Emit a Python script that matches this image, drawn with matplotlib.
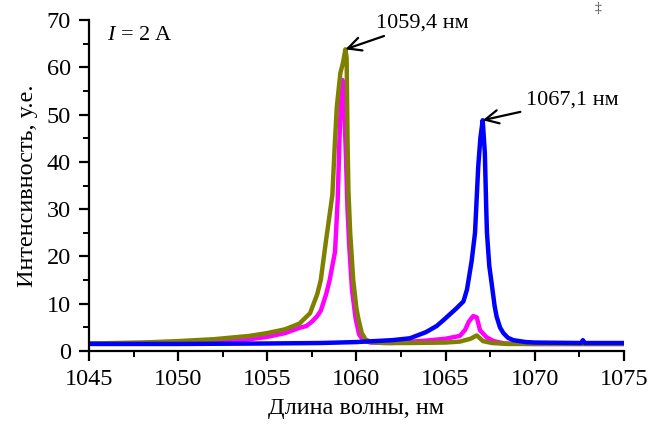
import matplotlib
matplotlib.use("Agg")
import matplotlib.pyplot as plt
from matplotlib.ticker import MultipleLocator

plt.rcParams['font.family'] = ['Liberation Serif', 'DejaVu Serif']
plt.rcParams['mathtext.fontset'] = 'custom'
plt.rcParams['mathtext.it'] = 'Liberation Serif:italic'
plt.rcParams['mathtext.rm'] = 'Liberation Serif'

# --- data ---
olive_x = [1045, 1048, 1050, 1052, 1054, 1055, 1056, 1056.8, 1057.4, 1057.8, 1058.0, 1058.3,
           1058.65, 1058.8, 1058.9, 1059.1, 1059.25, 1059.38, 1059.45, 1059.5, 1059.55, 1059.65,
           1059.82, 1060.0, 1060.1, 1060.3, 1060.5, 1060.8, 1061.5, 1063, 1065, 1065.8, 1066.4,
           1066.75, 1067.1, 1067.6, 1068.5, 1070, 1075]
olive_y = [1.6, 1.8, 2.1, 2.5, 3.2, 3.8, 4.6, 5.8, 8.0, 12, 15, 23.5,
           33, 44.6, 51.6, 58.8, 61, 63.8, 62, 45, 34, 25,
           15, 9, 7, 3.8, 2.5, 1.9, 1.7, 1.7, 1.8, 2.0, 2.6,
           3.3, 2.1, 1.7, 1.5, 1.5, 1.5]

magenta_x = [1045, 1048, 1050, 1052, 1053.1, 1054, 1055, 1056, 1056.8, 1057.2, 1057.5, 1057.8,
             1058.0, 1058.3, 1058.5, 1058.8, 1058.95, 1059.05, 1059.15, 1059.22, 1059.3, 1059.42,
             1059.5, 1059.6, 1059.75, 1059.95, 1060.15, 1060.4, 1060.8, 1062, 1063.9, 1065,
             1065.8, 1066.1, 1066.3, 1066.55, 1066.75, 1066.93, 1067.3, 1067.7, 1068.3, 1070, 1075]
magenta_y = [1.6, 1.7, 1.9, 2.1, 2.2, 2.5, 3.0, 3.8, 4.9, 5.3, 6.2, 7.4,
             8.5, 12, 15, 21, 32, 45, 55, 57.3, 54, 40,
             30, 22, 13, 7, 3.5, 2.2, 1.8, 1.7, 2.2, 2.6,
             3.2, 4.5, 6.2, 7.4, 7.1, 4.4, 2.9, 2.1, 1.6, 1.5, 1.5]

blue_x = [1045, 1050, 1055, 1058, 1060, 1061, 1062, 1063, 1063.9, 1064.5, 1064.9, 1065.6,
          1066.0, 1066.2, 1066.46, 1066.65, 1066.83, 1066.95, 1067.08, 1067.2, 1067.28, 1067.32,
          1067.45, 1067.58, 1067.75, 1067.86, 1068.05, 1068.24, 1068.5, 1068.8, 1069.5, 1070,
          1072.6, 1072.7, 1072.8, 1075]
blue_y = [1.5, 1.5, 1.6, 1.7, 1.9, 2.1, 2.3, 2.7, 4.0, 5.3, 6.6, 9.0,
          10.5, 13, 19, 25, 39, 45, 48.8, 42, 30, 25,
          18, 14.4, 9.5, 7.3, 5, 3.8, 2.8, 2.3, 1.9, 1.8,
          1.7, 2.3, 1.7, 1.7]

x_ticks = [1045, 1050, 1055, 1060, 1065, 1070, 1075]
y_ticks = [0, 10, 20, 30, 40, 50, 60, 70]
peak1_label = "1059,4 нм"
peak2_label = "1067,1 нм"
peak1 = (1059.38, 63.8)
peak2 = (1067.08, 48.8)

fig = plt.figure(figsize=(6.54, 4.25), dpi=100)
ax = fig.add_axes([0.136, 0.174, 0.818, 0.779])

ax.plot(magenta_x, magenta_y, color='#ff00ff', lw=3.2, solid_joinstyle='round')
ax.plot(olive_x, olive_y, color='#808000', lw=3.2, solid_joinstyle='round')
ax.plot(blue_x, blue_y, color='#0000ff', lw=3.2, solid_joinstyle='round')

ax.set_xlim(1045, 1075)
ax.set_ylim(0, 70)
ax.set_xticks(x_ticks)
ax.set_yticks(y_ticks)
ax.xaxis.set_minor_locator(MultipleLocator(2.5))
ax.yaxis.set_minor_locator(MultipleLocator(5))
for s in ['top', 'right']:
    ax.spines[s].set_visible(False)
for s in ['left', 'bottom']:
    ax.spines[s].set_linewidth(1.6)
ax.tick_params(which='major', direction='out', length=7, width=1.6, labelsize=17.5, pad=6)
ax.tick_params(which='minor', direction='out', length=4, width=1.4)

ax.set_xlabel("Длина волны, нм", fontsize=17.5, labelpad=6)
ax.set_ylabel("Интенсивность, у.е.", fontsize=17.5, labelpad=6)

ax.text(1046.0, 66.8, r"$I$ = 2 A", fontsize=16, va='center', ha='left')

ax.annotate(peak1_label, xy=peak1, xytext=(1061.1, 69.4), fontsize=16,
            va='center', ha='left',
            arrowprops=dict(arrowstyle='->,head_length=0.6,head_width=0.3', lw=1.6,
                            color='black', shrinkA=2, shrinkB=0))
ax.annotate(peak2_label, xy=peak2, xytext=(1069.5, 53.0), fontsize=16,
            va='center', ha='left',
            arrowprops=dict(arrowstyle='->,head_length=0.6,head_width=0.3', lw=1.6,
                            color='black', shrinkA=2, shrinkB=0))

fig.text(598 / 654, 1 - 8 / 425, "‡", fontsize=10, color='#444444', ha='center', va='center')

fig.savefig("out.png", dpi=100)
